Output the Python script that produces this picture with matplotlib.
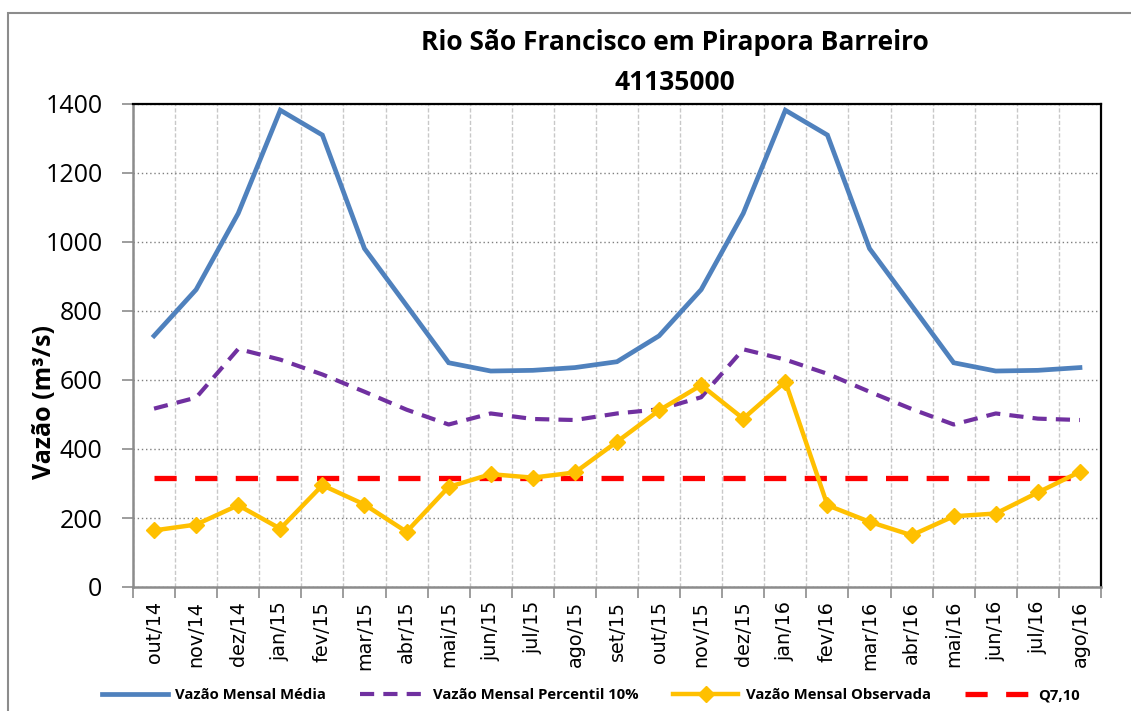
import numpy as np
import matplotlib
matplotlib.use("Agg")
import matplotlib.pyplot as plt
from matplotlib.patches import Rectangle

months = ["out/14", "nov/14", "dez/14", "jan/15", "fev/15", "mar/15", "abr/15",
          "mai/15", "jun/15", "jul/15", "ago/15", "set/15", "out/15", "nov/15",
          "dez/15", "jan/16", "fev/16", "mar/16", "abr/16", "mai/16", "jun/16",
          "jul/16", "ago/16"]

media = [728, 862, 1083, 1382, 1310, 981, 816, 650, 626, 628, 636, 653,
         728, 862, 1083, 1382, 1310, 981, 816, 650, 626, 628, 636]

percentil10 = [517, 549, 690, 659, 616, 566, 514, 471, 503, 487, 484, 503,
               515, 550, 689, 659, 618, 566, 516, 471, 503, 488, 484]

observada = [164, 181, 237, 169, 295, 239, 160, 290, 327, 317, 332, 421,
             512, 585, 488, 595, 237, 189, 150, 205, 213, 274, 334]

q710_value = 317
q710 = [q710_value] * len(months)

yticks = [0, 200, 400, 600, 800, 1000, 1200, 1400]

W, H = 1131, 711
fig = plt.figure(figsize=(W / 100, H / 100), dpi=100)
fig.patch.set_facecolor("white")

# outer chart frame
fig.patches.append(Rectangle((8 / W, -0.05), 1.1, (H - 13) / H + 0.05,
                             transform=fig.transFigure, fill=False,
                             edgecolor="#8c8c8c", linewidth=1.5))

ax = fig.add_axes([133 / W, (H - 587) / H, (1101 - 133) / W, (587 - 104) / H])

x = np.arange(len(months))

ax.plot(x, media, color="#4F81BD", lw=3.4, solid_joinstyle="miter",
        label="Vazão Mensal Média", zorder=4)
ax.plot(x, percentil10, color="#7030A0", lw=3.0, dashes=(3.4, 2.2),
        label="Vazão Mensal Percentil 10%", zorder=4)
ax.plot(x, observada, color="#FFC000", lw=3.2, marker="D", markersize=8.5,
        markeredgecolor="#FFC000", label="Vazão Mensal Observada", zorder=5)
ax.plot(x, q710, color="#FF0000", lw=3.8, dashes=(4.2, 3.5),
        label="Q7,10", zorder=3)

ax.set_xlim(-0.5, len(months) - 0.5)
ax.set_ylim(0, 1400)
ax.set_yticks(yticks)
ax.set_yticklabels([str(v) for v in yticks], fontfamily="Open Sans", fontsize=18)

ax.set_xticks(x)
ax.set_xticklabels(months, rotation=90, fontfamily="DejaVu Sans", fontsize=13.8)
ax.set_xticks(np.arange(-0.5, len(months)), minor=True)
ax.tick_params(axis="x", which="major", length=0, pad=10)
ax.tick_params(axis="x", which="minor", length=8, width=1.2, color="#8c8c8c",
               direction="out")
ax.tick_params(axis="y", which="major", length=8, width=1.2, color="#8c8c8c",
               direction="out", pad=14)

ax.grid(False)
ax.yaxis.grid(True, which="major", linestyle=(0, (1, 2)), color="#7f7f7f", lw=1.0)
ax.xaxis.grid(True, which="minor", linestyle=(0, (3, 1.5)), color="#c8c8c8", lw=1.0)
ax.set_axisbelow(True)

for side in ["left", "bottom"]:
    ax.spines[side].set_color("#8c8c8c")
    ax.spines[side].set_linewidth(1.8)
for side in ["top", "right"]:
    ax.spines[side].set_color("black")
    ax.spines[side].set_linewidth(1.6)

ax.set_ylabel("Vazão (m³/s)", fontfamily="Open Sans", fontweight="bold",
              fontsize=18)
ax.yaxis.set_label_coords(-0.0785, 0.383)

fig.text(675 / W, (H - 43) / H, "Rio São Francisco em Pirapora Barreiro",
         ha="center", va="center", fontfamily="Open Sans", fontweight="bold",
         fontsize=19)
fig.text(675 / W, (H - 82) / H, "41135000",
         ha="center", va="center", fontfamily="Open Sans", fontweight="bold",
         fontsize=19)

handles, labels = ax.get_legend_handles_labels()
leg = fig.legend(handles, labels, loc="center", ncol=4,
                 bbox_to_anchor=(0.5225, (H - 695) / H), frameon=False,
                 prop={"family": "Open Sans", "weight": "bold", "size": 10.7},
                 handlelength=4.4, handletextpad=0.5, columnspacing=2.3)

fig.savefig("out.png", dpi=100, facecolor="white")
